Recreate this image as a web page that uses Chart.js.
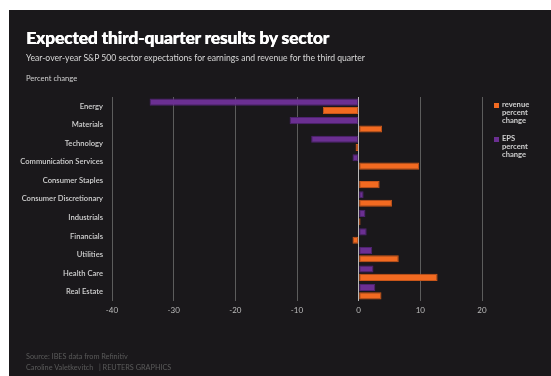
<!DOCTYPE html>
<html><head><meta charset="utf-8">
<script src="https://cdn.jsdelivr.net/npm/chart.js@4/dist/chart.umd.min.js"></script>
<style>
html,body{margin:0;padding:0;background:#fff;width:551px;height:376px;overflow:hidden;font-family:Lato,"Noto Sans",sans-serif}
#panel{position:absolute;left:9px;top:10px;width:542px;height:366px;background:#1a181b}
#c{position:absolute;left:0;top:0}
.t{position:absolute;white-space:nowrap}
#title{left:26px;top:27px;font-size:17.5px;font-weight:900;color:#fff;letter-spacing:-0.2px;text-shadow:0.4px 0 0 #fff}
#sub{left:26px;top:53px;font-size:8.6px;color:#d8d8d8}
#pc{left:26px;top:73px;font-size:7.6px;color:#d0d0d0}
#src{left:26px;top:352px;font-size:7.3px;color:#5a5a5a}
#by{left:26px;top:363px;font-size:7.3px;color:#5a5a5a}
.lg{position:absolute;left:494px;font-size:7.6px;line-height:7.8px;color:#cfcfcf;font-weight:bold}
.lg i{position:absolute;left:0;top:1px;width:5px;height:5px}
.lg span{position:absolute;left:8px;top:-1px}
</style></head>
<body>
<div id="panel"></div>
<canvas id="c" width="551" height="376"></canvas>
<div class="t" id="title">Expected third-quarter results by sector</div>
<div class="t" id="sub">Year-over-year S&amp;P 500 sector expectations for earnings and revenue for the third quarter</div>
<div class="t" id="pc">Percent change</div>
<div class="t" id="src">Source: IBES data from Refinitiv</div>
<div class="t" id="by">Caroline Valetkevitch &nbsp;&nbsp;| REUTERS GRAPHICS</div>
<div class="lg" style="top:102px"><i style="background:#f26a21"></i><span>revenue<br>percent<br>change</span></div>
<div class="lg" style="top:136px"><i style="background:#6b2f92"></i><span>EPS<br>percent<br>change</span></div>
<script>
const sectors = ["Energy","Materials","Technology","Communication Services","Consumer Staples","Consumer Discretionary","Industrials","Financials","Utilities","Health Care","Real Estate"];
const epsChange = [-33.9,-11.2,-7.7,-1.0,0,0.8,1.1,1.3,2.2,2.4,2.7];
const revenueChange = [-5.8,3.8,-0.5,9.8,3.4,5.4,0.3,-1.0,6.5,12.8,3.7];
const xTicks = [-40,-30,-20,-10,0,10,20];

new Chart(document.getElementById('c'), {
  type: 'bar',
  data: {
    labels: sectors,
    datasets: [
      {label:'EPS percent change', data: epsChange, backgroundColor:'#6b2f92', borderColor:'#4e2270', borderWidth:1, borderSkipped:false, barPercentage:0.85, categoryPercentage:0.9},
      {label:'revenue percent change', data: revenueChange, backgroundColor:'#f26a21', borderColor:'#c9561a', borderWidth:1, borderSkipped:false, barPercentage:0.85, categoryPercentage:0.9}
    ]
  },
  options: {
    indexAxis:'y',
    responsive:false,
    animation:false,
    layout:{padding:{top:97,bottom:55,left:0,right:69}},
    plugins:{legend:{display:false},tooltip:{enabled:false}},
    scales:{
      x:{
        min:-40,max:20,
        afterFit:s=>{s.height=20;},
        afterBuildTicks:s=>{s.ticks = xTicks.map(v=>({value:v}));},
        border:{display:false},
        grid:{drawTicks:false,color:c=>c.tick && c.tick.value===0 ? '#b8b8b8' : '#5c5c5c',lineWidth:1},
        ticks:{color:'#bdbdbd',font:{family:'Lato',size:8},padding:5}
      },
      y:{
        afterFit:s=>{s.width=112;},
        border:{display:false},
        grid:{display:false},
        ticks:{color:'#d2d2d2',font:{family:'Lato',size:7.6,weight:'600'},padding:1}
      }
    }
  }
});
</script>
</body></html>
